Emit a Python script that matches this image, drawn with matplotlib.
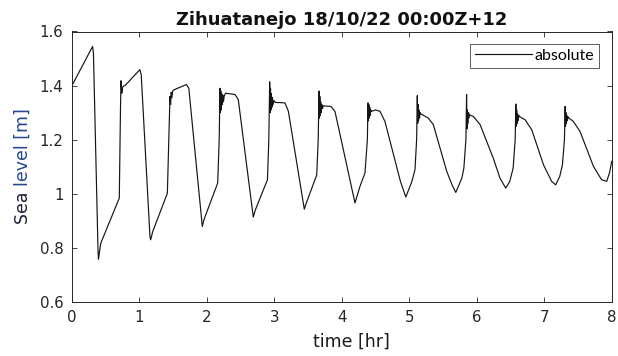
import matplotlib
matplotlib.use("Agg")
import matplotlib.pyplot as plt

# ---- data ----
time_hr = [
    0.000, 0.004, 0.310, 0.322, 0.390, 0.396, 0.430, 0.705,
    0.722, 0.730, 0.742, 0.752, 0.762, 0.790, 1.010, 1.030, 1.160, 1.170, 1.200, 1.417,
    1.445, 1.456, 1.465, 1.474, 1.484, 1.496, 1.520, 1.700, 1.735, 1.935, 1.960, 2.163,
    2.185, 2.197, 2.203, 2.209, 2.215, 2.222, 2.230, 2.238, 2.248, 2.260, 2.280, 2.420, 2.468, 2.690, 2.720, 2.900,
    2.920, 2.933, 2.939, 2.945, 2.951, 2.958, 2.966, 2.974, 2.984, 2.996, 3.015, 3.160, 3.210, 3.446, 3.470, 3.630,
    3.652, 3.664, 3.670, 3.676, 3.682, 3.689, 3.697, 3.705, 3.715, 3.728, 3.840, 3.900, 4.197, 4.270, 4.345,
    4.380, 4.390, 4.396, 4.402, 4.408, 4.415, 4.423, 4.431, 4.442, 4.500, 4.567, 4.640, 4.870, 4.950, 5.040, 5.086,
    5.110, 5.120, 5.126, 5.132, 5.138, 5.145, 5.153, 5.162, 5.175, 5.283, 5.357, 5.556, 5.640, 5.690, 5.780, 5.810,
    5.840, 5.850, 5.856, 5.862, 5.868, 5.875, 5.883, 5.892, 5.905, 5.950, 6.050, 6.245, 6.345, 6.430, 6.490, 6.540,
    6.570, 6.580, 6.586, 6.592, 6.598, 6.605, 6.613, 6.622, 6.635, 6.716, 6.815, 6.990, 7.110, 7.170, 7.230, 7.270,
    7.300, 7.310, 7.316, 7.322, 7.328, 7.335, 7.343, 7.352, 7.365, 7.430, 7.530, 7.730, 7.850, 7.926, 7.970, 8.000,
]
sea_level_m = [
    1.160, 1.400, 1.545, 1.520, 0.790, 0.758, 0.817, 0.984,
    1.300, 1.418, 1.372, 1.390, 1.398, 1.400, 1.459, 1.440, 0.840, 0.830, 0.860, 1.002,
    1.250, 1.360, 1.330, 1.375, 1.355, 1.380, 1.385, 1.404, 1.390, 0.879, 0.905, 1.040,
    1.200, 1.390, 1.300, 1.380, 1.310, 1.370, 1.330, 1.365, 1.340, 1.362, 1.372, 1.367, 1.348, 0.914, 0.940, 1.052,
    1.200, 1.414, 1.300, 1.390, 1.310, 1.370, 1.320, 1.355, 1.330, 1.345, 1.338, 1.336, 1.305, 0.943, 0.962, 1.070,
    1.200, 1.380, 1.280, 1.360, 1.290, 1.340, 1.300, 1.330, 1.315, 1.325, 1.323, 1.305, 0.966, 1.027, 1.077,
    1.200, 1.336, 1.270, 1.330, 1.280, 1.320, 1.290, 1.310, 1.305, 1.310, 1.305, 1.268, 1.046, 0.988, 1.046, 1.089,
    1.200, 1.363, 1.260, 1.330, 1.270, 1.310, 1.280, 1.300, 1.295, 1.280, 1.256, 1.083, 1.030, 1.005, 1.058, 1.095,
    1.200, 1.367, 1.240, 1.310, 1.260, 1.300, 1.280, 1.295, 1.290, 1.286, 1.256, 1.132, 1.058, 1.021, 1.046, 1.095,
    1.200, 1.332, 1.250, 1.310, 1.260, 1.295, 1.270, 1.290, 1.285, 1.274, 1.237, 1.107, 1.046, 1.033, 1.064, 1.107,
    1.200, 1.323, 1.250, 1.300, 1.260, 1.290, 1.270, 1.285, 1.280, 1.268, 1.231, 1.101, 1.052, 1.046, 1.080, 1.120,
]
x_ticks = [0, 1, 2, 3, 4, 5, 6, 7, 8]
y_ticks = [0.6, 0.8, 1.0, 1.2, 1.4, 1.6]
y_tick_labels = ["0.6", "0.8", "1", "1.2", "1.4", "1.6"]
title_text = "Zihuatanejo 18/10/22 00:00Z+12"
legend_label = "absolute"

# ---- figure ----
W, H = 618, 356
fig = plt.figure(figsize=(W / 100, H / 100), dpi=100)
ax_l, ax_r, ax_t, ax_b = 71.7, 611.7, 31.5, 302.0
ax = fig.add_axes([ax_l / W, 1 - ax_b / H, (ax_r - ax_l) / W, (ax_b - ax_t) / H])

line, = ax.plot(time_hr, sea_level_m, color="#151515", lw=0.85, label=legend_label)

ax.set_xlim(0, 8)
ax.set_ylim(0.6, 1.6)
ax.set_xticks(x_ticks)
ax.set_xticklabels([str(v) for v in x_ticks])
ax.set_yticks(y_ticks)
ax.set_yticklabels(y_tick_labels)

spine_col = "#262626"
for s in ax.spines.values():
    s.set_color(spine_col)
    s.set_linewidth(0.7)
ax.tick_params(direction="in", length=3.8, width=0.6, colors=spine_col,
               labelsize=10.8, pad=6, top=True, right=True,
               labeltop=False, labelright=False)
for lab in ax.get_xticklabels() + ax.get_yticklabels():
    lab.set_color("#262626")

ax.set_title(title_text, fontsize=13, fontweight="bold", pad=4.5, color="#111111")

leg = ax.legend(loc="upper right", bbox_to_anchor=((599 - ax_l) / (ax_r - ax_l), (ax_b - 44) / (ax_b - ax_t)),
                borderaxespad=0, frameon=True, fancybox=False, handlelength=3.6,
                handletextpad=0.15, borderpad=0.3,
                prop={"family": ["Lato", "DejaVu Sans"], "size": 11.5})
leg.get_frame().set_edgecolor("#333333")
leg.get_frame().set_linewidth(0.7)

# x label
fig.text(351.7 / W, 1 - 342 / H, "time [hr]", ha="center", va="center",
         fontsize=12.5, color="#1a1a1a")

# y label in two colours
yc = 1 - 166.5 / H
xc = 22.5 / W
fig.canvas.draw()
r = fig.canvas.get_renderer()
full = fig.text(xc, yc, "Sea level [m]", rotation=90, ha="center", va="center", fontsize=12.5)
bb_full = full.get_window_extent(r)
full.remove()
t1 = fig.text(xc, bb_full.y0 / H, "Sea ", rotation=90, ha="center", va="bottom",
              fontsize=12.5, color="#1b1f36")
bb1 = t1.get_window_extent(r)
fig.text(xc, bb1.y1 / H, "level [m]", rotation=90, ha="center", va="bottom",
         fontsize=12.5, color="#24478f")

fig.savefig("out.png", dpi=100)
